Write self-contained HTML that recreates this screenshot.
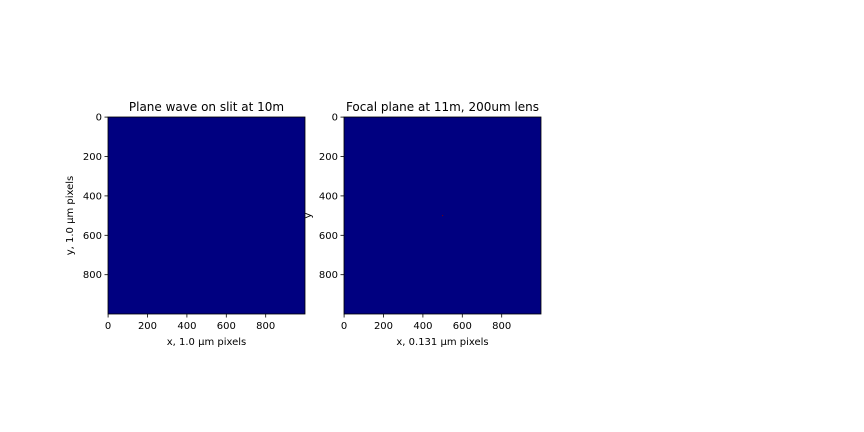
<!DOCTYPE html>
<html><head><meta charset="utf-8"><style>
body{margin:0;background:#fff;}
svg{display:block;font-family:"DejaVu Sans","Liberation Sans",sans-serif;}
</style></head><body>
<svg id="fig" width="864" height="432"></svg>
<script>
const xTicks=[0,200,400,600,800];
const yTicks=[0,200,400,600,800];
const extent=1000;
const panels=[
 {x0:108,y0:117,size:197,title:"Plane wave on slit at 10m",xlabel:"x, 1.0 μm pixels",ylabel:"y, 1.0 μm pixels",name:"slit-panel"},
 {x0:344,y0:117,size:197,title:"Focal plane at 11m, 200um lens",xlabel:"x, 0.131 μm pixels",ylabel:"y",name:"focal-panel"}
];
const spotX=[500];const spotY=[500];
const NS="http://www.w3.org/2000/svg";
const svg=document.getElementById('fig');
function mk(t,a,p){const e=document.createElementNS(NS,t);for(const k in a)e.setAttribute(k,a[k]);(p||svg).appendChild(e);return e;}
panels.forEach((p,i)=>{
 const g=mk('g',{});
 
 
 const sx=v=>p.x0+(v+0.5)/extent*p.size;
 const sy=v=>p.y0+(v+0.5)/extent*p.size;
 const r=mk('rect',{x:p.x0,y:p.y0,width:p.size,height:p.size,fill:'#000080',stroke:'#000','stroke-width':0.8},g);
 
 
 xTicks.forEach(v=>{
  mk('line',{x1:sx(v),x2:sx(v),y1:p.y0+p.size,y2:p.y0+p.size+3.5,stroke:'#000','stroke-width':0.8},g);
  const t=mk('text',{x:sx(v),y:p.y0+p.size+15,'font-size':10,'text-anchor':'middle'},g);t.textContent=v;
  
  
 });
 yTicks.forEach(v=>{
  mk('line',{x1:p.x0-3.5,x2:p.x0,y1:sy(v),y2:sy(v),stroke:'#000','stroke-width':0.8},g);
  const t=mk('text',{x:p.x0-6,y:sy(v)+3.5,'font-size':10,'text-anchor':'end'},g);t.textContent=v;
  
  
 });
 const ti=mk('text',{x:p.x0+p.size/2,y:p.y0-6,'font-size':12,'text-anchor':'middle'},g);ti.textContent=p.title;
 
 
 const xl=mk('text',{x:p.x0+p.size/2,y:p.y0+p.size+31,'font-size':10,'text-anchor':'middle'},g);xl.textContent=p.xlabel;
 
 
 const lx=i===0?p.x0-35:p.x0-33;
 const yl=mk('text',{x:lx,y:p.y0+p.size/2,'font-size':10,'text-anchor':'middle',transform:`rotate(-90 ${lx} ${p.y0+p.size/2})`},g);yl.textContent=p.ylabel;
 
 
 if(i===1){spotX.forEach((v,k)=>{
  const c=mk('rect',{x:sx(v)-0.5,y:sy(spotY[k])-0.5,width:1,height:1,fill:'#800000'},g);
  
  
 });}
});
</script>
</body></html>
